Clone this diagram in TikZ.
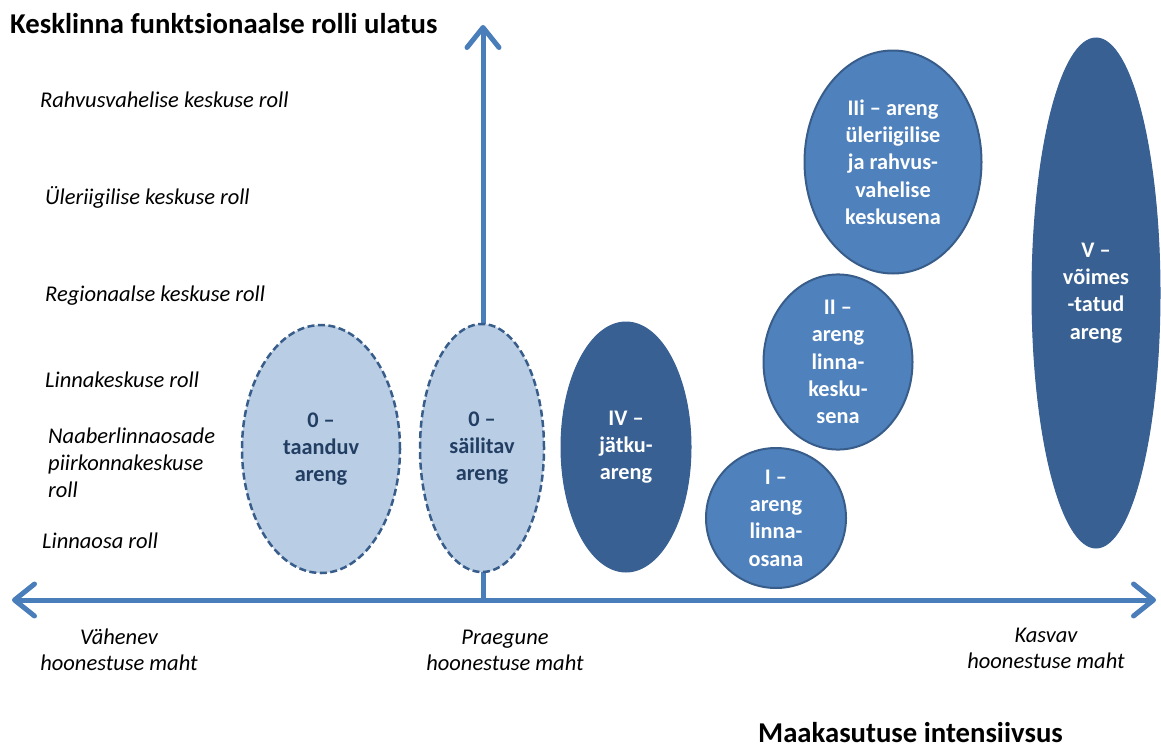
\documentclass[tikz,border=0pt]{standalone}
\usepackage{fontspec}
\setmainfont{Carlito}
\usetikzlibrary{shapes.geometric,arrows.meta}
\definecolor{axisblue}{HTML}{4A7EBB}
\definecolor{lightfill}{HTML}{B9CDE5}
\definecolor{edgeblue}{HTML}{385D8A}
\definecolor{midfill}{HTML}{4F81BD}
\definecolor{darkfill}{HTML}{386092}
\definecolor{darktext}{HTML}{223E62}
\tikzset{
  axisline/.style={draw=axisblue, line width=5pt, line cap=round},
  barbtip/.tip={Straight Barb[length=20pt,width=32pt,round]},
  oval/.style={ellipse, inner sep=0pt, align=center, font=\fontsize{22.3}{27.3}\selectfont\bfseries},
  lightoval/.style={oval, fill=lightfill, draw=edgeblue, line width=2.5pt, dash pattern=on 7pt off 3.5pt, text=darktext},
  midoval/.style={oval, fill=midfill, draw=edgeblue, line width=2pt, text=white},
  darkoval/.style={oval, fill=darkfill, draw=darkfill, line width=1pt, text=white},
  rolelabel/.style={anchor=base west, inner sep=0pt, align=left, font=\fontsize{22.5}{27}\selectfont\itshape},
  axislabel/.style={anchor=base, inner sep=0pt, align=center, font=\fontsize{22.5}{26}\selectfont\itshape},
  heading/.style={anchor=base west, inner sep=0pt, font=\fontsize{28.7}{34}\selectfont\bfseries}
}
\begin{document}
\begin{tikzpicture}[x=1pt,y=-1pt]
\useasboundingbox (0,0) rectangle (1161,747);
% axes
\coordinate (xl) at (12,600);
\coordinate (xr) at (1156,600);
\coordinate (yb) at (483,600);
\coordinate (yt) at (483,25);
\draw[axisline, -barbtip] (yb) -- (yt);
\draw[axisline, barbtip-barbtip] (xl) -- (xr);
% headings
\node[heading] (ttl) at (10,33) {Kesklinna funktsionaalse rolli ulatus};
\node[heading] (xttl) at (758,742) {Maakasutuse intensiivsus};
% role labels
\node[rolelabel] (r1) at (40,107) {Rahvusvahelise keskuse roll};
\node[rolelabel] (r2) at (45,204) {Üleriigilise keskuse roll};
\node[rolelabel] (r3) at (45,301) {Regionaalse keskuse roll};
\node[rolelabel] (r4) at (45,387) {Linnakeskuse roll};
\node[rolelabel] (r5) at (48,497) {Naaberlinnaosade\\piirkonnakeskuse\\roll};
\node[rolelabel] (r6) at (42,548) {Linnaosa roll};
% axis labels (base = last line)
\node[axislabel] (b1) at (119,670) {Vähenev\\hoonestuse maht};
\node[axislabel] (b2) at (505,670) {Praegune\\hoonestuse maht};
\node[axislabel] (b3) at (1046,668) {Kasvav\\hoonestuse maht};
% ellipses
\node[lightoval, minimum width=158pt, minimum height=248pt] (e0a) at (321,449) {0 –\\taanduv\\areng};
\node[lightoval, minimum width=124pt, minimum height=248pt] (e0b) at (482,448) {0 –\\säilitav\\areng};
\node[darkoval, minimum width=130pt, minimum height=250pt] (e4) at (626,447) {IV –\\jätku-\\areng};
\node[midoval, minimum width=140pt, minimum height=140pt] (e1) at (776,518) {I –\\areng\\linna-\\osana};
\node[midoval, minimum width=149pt, minimum height=143pt] (e2) at (838,362) {II –\\areng\\linna-\\kesku-\\sena};
\node[midoval, minimum width=177pt, minimum height=223pt] (e3) at (893,162) {IIi – areng\\üleriigilise\\ja rahvus-\\vahelise\\keskusena};
\node[darkoval, minimum width=128pt, minimum height=510pt] (e5) at (1096,293) {V –\\võimes\\-tatud\\areng};
\end{tikzpicture}
\end{document}
